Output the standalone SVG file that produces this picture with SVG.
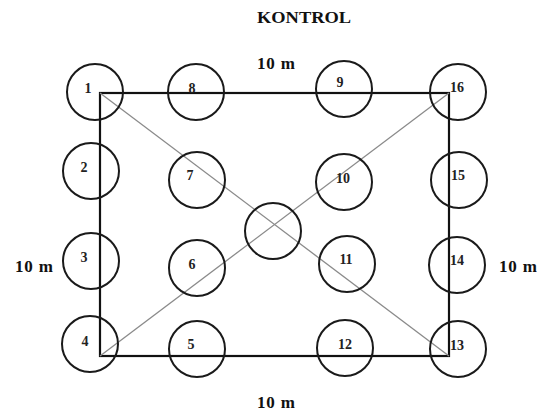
<svg xmlns="http://www.w3.org/2000/svg" width="537" height="413" viewBox="0 0 537 413">
<style>
.c{fill:none;stroke:#1a1a1a;stroke-width:2}
.n{font-family:"Liberation Serif",serif;font-weight:bold;font-size:14px;fill:#222;text-anchor:middle}
.t{font-family:"Liberation Serif",serif;font-weight:bold;font-size:17px;fill:#111}
.diag{stroke:#8a8a8a;stroke-width:1.3;fill:none}
.edge{stroke:#111;stroke-width:2.2;fill:none}
</style>
<rect width="537" height="413" fill="#fff"/>
<text class="t" x="257" y="23" textLength="94" lengthAdjust="spacingAndGlyphs">KONTROL</text>
<text class="t" x="257" y="69" textLength="38">10 m</text>
<text class="t" x="257" y="408" textLength="38">10 m</text>
<text class="t" x="15" y="272" textLength="38">10 m</text>
<text class="t" x="499" y="272" textLength="38">10 m</text>
<g id="connectors">
<rect class="edge" x="100" y="93" width="349" height="263"/>
<line class="diag" x1="100" y1="93" x2="449" y2="356"/>
<line class="diag" x1="100" y1="356" x2="449" y2="93"/>
</g>
<g id="n1"><circle class="c" cx="95" cy="92" r="28"/><text class="n" x="88" y="93">1</text></g>
<g id="n8"><circle class="c" cx="196" cy="92" r="28"/><text class="n" x="192" y="93">8</text></g>
<g id="n9"><circle class="c" cx="344" cy="89" r="28"/><text class="n" x="340" y="87">9</text></g>
<g id="n16"><circle class="c" cx="458" cy="92" r="28"/><text class="n" x="457" y="92">16</text></g>
<g id="n2"><circle class="c" cx="91" cy="171" r="28"/><text class="n" x="84" y="172">2</text></g>
<g id="n7"><circle class="c" cx="197" cy="180" r="28"/><text class="n" x="190" y="180">7</text></g>
<g id="n10"><circle class="c" cx="344" cy="182" r="28"/><text class="n" x="343" y="183">10</text></g>
<g id="n15"><circle class="c" cx="459" cy="180" r="28"/><text class="n" x="458" y="180">15</text></g>
<g id="center"><circle class="c" cx="273" cy="231" r="28"/></g>
<g id="n3"><circle class="c" cx="91" cy="261" r="28"/><text class="n" x="84" y="262">3</text></g>
<g id="n6"><circle class="c" cx="197" cy="268" r="28"/><text class="n" x="192" y="269">6</text></g>
<g id="n11"><circle class="c" cx="347" cy="264" r="28"/><text class="n" x="346" y="264">11</text></g>
<g id="n14"><circle class="c" cx="457" cy="265" r="28"/><text class="n" x="457" y="265">14</text></g>
<g id="n4"><circle class="c" cx="90" cy="344" r="28"/><text class="n" x="85" y="346">4</text></g>
<g id="n5"><circle class="c" cx="197" cy="349" r="28"/><text class="n" x="191" y="349">5</text></g>
<g id="n12"><circle class="c" cx="345" cy="348" r="28"/><text class="n" x="345" y="349">12</text></g>
<g id="n13"><circle class="c" cx="458" cy="349" r="28"/><text class="n" x="457" y="350">13</text></g>
</svg>
